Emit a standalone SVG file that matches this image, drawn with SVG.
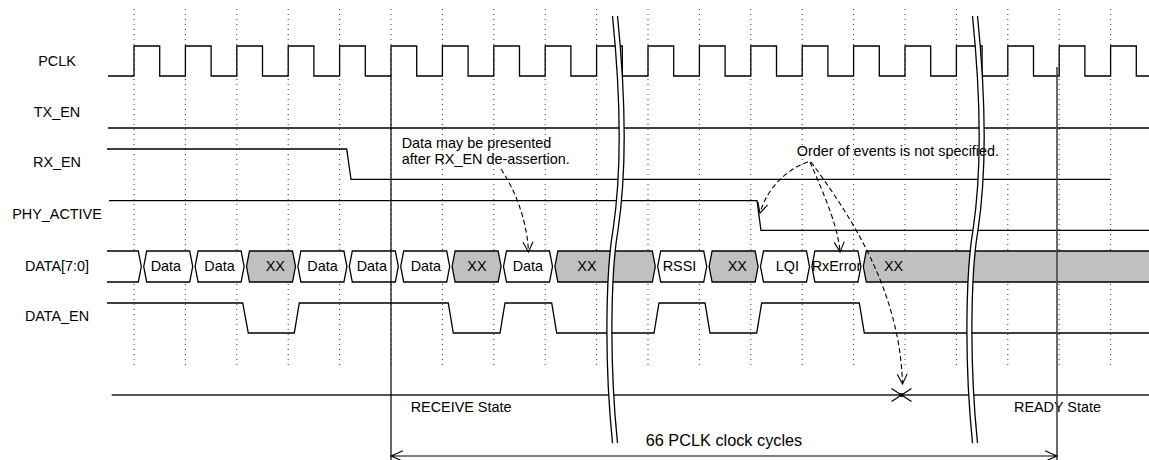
<svg xmlns="http://www.w3.org/2000/svg" width="1149" height="460" viewBox="0 0 1149 460">
<style>
text{font-family:"Liberation Sans",Arial,sans-serif;font-size:14.4px;fill:#000}
.lbl{text-anchor:middle}
.sig{fill:none;stroke:#000;stroke-width:1.3}
.grid{fill:none;stroke:#333;stroke-width:1;stroke-dasharray:1 4}
.cw{fill:#fff;stroke:#000;stroke-width:1.3}
.cg{fill:#c0c0c0;stroke:#000;stroke-width:1.3}
.brk{fill:#fff;stroke:none}
.brl{fill:none;stroke:#000;stroke-width:1.3}
.ann{fill:none;stroke:#000;stroke-width:1.1;stroke-dasharray:5 3}
.dim{fill:none;stroke:#000;stroke-width:1.1}
</style>
<defs>
<marker id="ah" viewBox="0 0 12 12" refX="11" refY="6" markerWidth="12" markerHeight="12" markerUnits="userSpaceOnUse" orient="auto">
<path d="M1,1 L11,6 L1,11" fill="none" stroke="#000" stroke-width="1.1"/>
</marker>
</defs>
<rect width="1149" height="460" fill="#fff"/>
<g id="grid">
<path class="grid" d="M134,9V369M185.4,9V369M236.8,9V369M288.2,9V369M339.6,9V369M391,9V369M442.4,9V369M493.8,9V369M545.2,9V369M596.6,9V369M648,9V369M699.4,9V369M750.8,9V369M802.2,9V369M853.6,9V369M905,9V369M956.4,9V369M1007.8,9V369M1059.2,9V369M1110.6,9V369"/>
</g>
<g id="labels">
<text class="lbl" x="57" y="65.7">PCLK</text>
<text class="lbl" x="57" y="116.7">TX_EN</text>
<text class="lbl" x="57" y="167.3">RX_EN</text>
<text class="lbl" x="57" y="219">PHY_ACTIVE</text>
<text class="lbl" x="57" y="270.7">DATA[7:0]</text>
<text class="lbl" x="57" y="321.3">DATA_EN</text>
</g>
<g id="pclk">
<path class="sig" d="M108,76H134V46H159.7V76H185.4V46H211.1V76H236.8V46H262.5V76H288.2V46H313.9V76H339.6V46H365.3V76H391V46H416.7V76H442.4V46H468.1V76H493.8V46H519.5V76H545.2V46H570.9V76H596.6V46H622.3V76H648V46H673.7V76H699.4V46H725.1V76H750.8V46H776.5V76H802.2V46H827.9V76H853.6V46H879.3V76H905V46H930.7V76H956.4V46H982.1V76H1007.8V46H1033.5V76H1059.2V46H1084.9V76H1110.6V46H1136.3V76H1149"/>
</g>
<g id="tx_en"><path class="sig" d="M108,128H1149"/></g>
<g id="rx_en"><path class="sig" d="M107,149H346.7L351,179.3H1110"/></g>
<g id="phy_active"><path class="sig" d="M109,200.7H757L761,230.3H1149"/></g>
<g id="data_bus">
<path class="cw" d="M107,251H138.3L141.3,266.5L138.3,282H107"/>
<polygon class="cw" points="143.7,266.5 146.7,251 189.7,251 192.7,266.5 189.7,282 146.7,282"/>
<polygon class="cw" points="195.1,266.5 198.1,251 241.1,251 244.1,266.5 241.1,282 198.1,282"/>
<polygon class="cg" points="246.5,266.5 249.5,251 292.5,251 295.5,266.5 292.5,282 249.5,282"/>
<polygon class="cw" points="297.9,266.5 300.9,251 343.9,251 346.9,266.5 343.9,282 300.9,282"/>
<polygon class="cw" points="349.3,266.5 352.3,251 395.3,251 398.3,266.5 395.3,282 352.3,282"/>
<polygon class="cw" points="400.7,266.5 403.7,251 446.7,251 449.7,266.5 446.7,282 403.7,282"/>
<polygon class="cg" points="452.1,266.5 455.1,251 498.1,251 501.1,266.5 498.1,282 455.1,282"/>
<polygon class="cw" points="503.5,266.5 506.5,251 549.5,251 552.5,266.5 549.5,282 506.5,282"/>
<polygon class="cg" points="554.9,266.5 557.9,251 652.3,251 655.3,266.5 652.3,282 557.9,282"/>
<polygon class="cw" points="657.7,266.5 660.7,251 703.7,251 706.7,266.5 703.7,282 660.7,282"/>
<polygon class="cg" points="709.1,266.5 712.1,251 755.1,251 758.1,266.5 755.1,282 712.1,282"/>
<polygon class="cw" points="760.5,266.5 763.5,251 806.5,251 809.5,266.5 806.5,282 763.5,282"/>
<polygon class="cw" points="811.9,266.5 814.9,251 857.9,251 860.9,266.5 857.9,282 814.9,282"/>
<path class="cg" d="M1151,251H866.3L863.3,266.5L866.3,282H1151"/>
<text x="150.7" y="270.7">Data</text>
<text x="204.3" y="270.7">Data</text>
<text x="265.7" y="270.7">XX</text>
<text x="307.3" y="270.7">Data</text>
<text x="356.7" y="270.7">Data</text>
<text x="410.7" y="270.7">Data</text>
<text x="467.3" y="270.7">XX</text>
<text x="512.7" y="270.7">Data</text>
<text x="577.3" y="270.7">XX</text>
<text x="662.7" y="270.7">RSSI</text>
<text x="727.7" y="270.7">XX</text>
<text x="775.7" y="270.7">LQI</text>
<text x="811.7" y="270.7">RxError</text>
<text x="884" y="270.7">XX</text>
</g>
<g id="data_en">
<path class="sig" d="M107,303H242.7L248.3,333H294.3L299.3,303H448.3L453.3,333H500L505,303H551.7L556.7,333H654L659,303H705L710,333H756.7L761.7,303H859.3L864.3,333H1149"/>
</g>
<g id="state_line">
<path d="M111.7,395H1149" fill="none" stroke="#555" stroke-width="1.8"/>
<path d="M891.5,388.5L911.5,401.5M891.5,401.5L911.5,388.5" fill="none" stroke="#000" stroke-width="1.2"/>
<circle cx="901.5" cy="395" r="2" fill="#000"/>
<text x="410.7" y="411.7">RECEIVE State</text>
<text x="1014" y="411.7">READY State</text>
</g>
<g id="markers">
<path d="M391,76V460" fill="none" stroke="#000" stroke-width="1.2"/>
<path d="M1057,67V460" fill="none" stroke="#444" stroke-width="1.6"/>
</g>
<g id="break1">
<path class="brk" d="M612.5,16C621,100 622,170 613,230C606,270 604,360 612.5,443L617.5,443C609,360 611,270 618,230C627,170 626,100 617.5,16Z"/>
<path class="brl" d="M612.5,16C621,100 622,170 613,230C606,270 604,360 612.5,443"/>
<path class="brl" d="M617.5,16C626,100 627,170 618,230C611,270 609,360 617.5,443"/>
</g>
<g id="break2">
<path class="brk" d="M972.5,16C981,100 982,170 973,230C966,270 964,360 972.5,443L977.5,443C969,360 971,270 978,230C987,170 986,100 977.5,16Z"/>
<path class="brl" d="M972.5,16C981,100 982,170 973,230C966,270 964,360 972.5,443"/>
<path class="brl" d="M977.5,16C986,100 987,170 978,230C971,270 969,360 977.5,443"/>
</g>
<g id="note_rx">
<text x="401.7" y="147.7">Data may be presented</text>
<text x="401.7" y="164">after RX_EN de-assertion.</text>
</g>
<g id="note_order">
<text x="796.7" y="156">Order of events is not specified.</text>
</g>
<g id="connectors">
<path class="ann" d="M501,169C515,190 527,220 528.5,252" marker-end="url(#ah)"/>
<path class="ann" d="M808,162C790,168 768,185 760,213" marker-end="url(#ah)"/>
<path class="ann" d="M810,162C822,190 838,225 840,252" marker-end="url(#ah)"/>
<path class="ann" d="M811,162C850,215 900,290 902.5,384" marker-end="url(#ah)"/>
</g>
<g id="dimension">
<path class="dim" d="M391,456H1057M403,450.7L391,456L403,461.3M1045,450.7L1057,456L1045,461.3"/>
<text x="645.7" y="445.7" style="font-size:16.3px">66 PCLK clock cycles</text>
</g>
</svg>
